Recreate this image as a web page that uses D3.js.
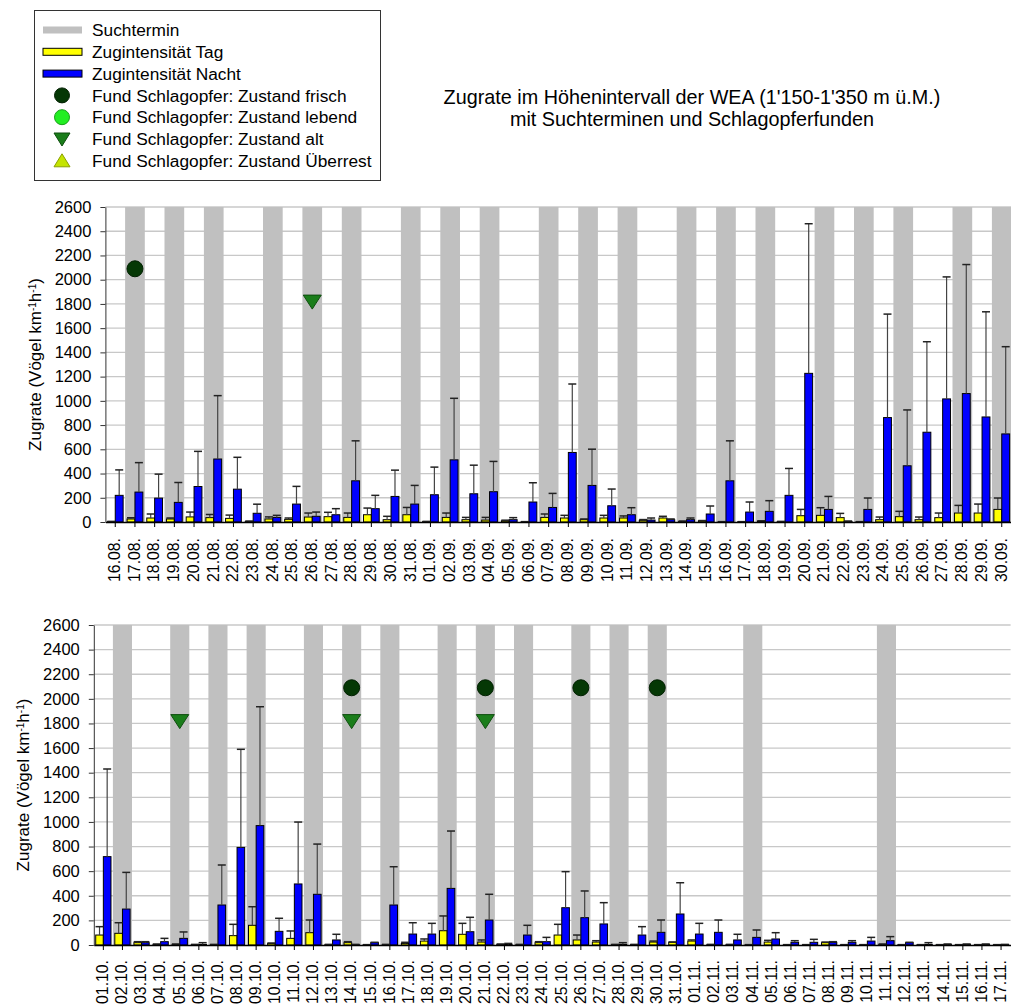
<!DOCTYPE html>
<html>
<head>
<meta charset="utf-8">
<script src="https://cdn.jsdelivr.net/npm/d3@7"></script>
<style>
body { margin: 0; background: #fff; }
svg text { font-family: "Liberation Sans", Arial, sans-serif; fill: #000; }
</style>
</head>
<body>
<div id="chart"></div>
<script>
var width = 1011;
var height = 1008;

// Panel 1: 16.08. - 30.09.
var dates1 = ["16.08.","17.08.","18.08.","19.08.","20.08.","21.08.","22.08.","23.08.","24.08.","25.08.",
    "26.08.","27.08.","28.08.","29.08.","30.08.","31.08.","01.09.","02.09.","03.09.","04.09.",
    "05.09.","06.09.","07.09.","08.09.","09.09.","10.09.","11.09.","12.09.","13.09.","14.09.",
    "15.09.","16.09.","17.09.","18.09.","19.09.","20.09.","21.09.","22.09.","23.09.","24.09.",
    "25.09.","26.09.","27.09.","28.09.","29.09.","30.09."];
var tag1 = [3,25,33,25,42,36,30,4,25,22, 41,44,38,60,19,60,3,38,19,16,
    10,2,38,33,19,33,33,14,33,5, 10,2,2,8,3,52,55,36,2,19, 44,19,36,74,74,104];
var tagTop1 = [5,35,66,33,82,62,57,8,42,33, 74,80,74,115,47,120,5,74,38,38,
    15,3,66,55,25,55,50,20,47,8, 12,3,3,10,5,104,118,71,3,41, 88,41,74,137,148,198];
var nacht1 = [220,247,197,162,293,520,271,72,38,148, 47,60,340,110,211,148,225,513,233,250,
    19,165,120,574,302,134,60,16,19,19, 66,340,82,88,220,1227,104,5,104,862, 464,741,1016,1060,867,727];
var nachtTop1 = [430,490,395,326,583,1043,534,147,55,294, 82,110,670,220,428,302,453,1021,469,500,
    36,324,236,1139,601,272,118,33,25,33, 132,670,165,176,442,2462,211,8,198,1716, 925,1488,2023,2125,1735,1447];
var such1 = ["17.08.","19.08.","21.08.","24.08.","26.08.","28.08.","31.08.","02.09.","04.09.","07.09.",
    "09.09.","11.09.","14.09.","16.09.","18.09.","21.09.","23.09.","25.09.","28.09.","30.09."];
var frisch1 = ["17.08."];
var alt1 = ["26.08."];

// Panel 2: 01.10. - 17.11.
var dates2 = ["01.10.","02.10.","03.10.","04.10.","05.10.","06.10.","07.10.","08.10.","09.10.","10.10.",
    "11.10.","12.10.","13.10.","14.10.","15.10.","16.10.","17.10.","18.10.","19.10.","20.10.",
    "21.10.","22.10.","23.10.","24.10.","25.10.","26.10.","27.10.","28.10.","29.10.","30.10.",
    "31.10.","01.11.","02.11.","03.11.","04.11.","05.11.","06.11.","07.11.","08.11.","09.11.",
    "10.11.","11.11.","12.11.","13.11.","14.11.","15.11.","16.11.","17.11."];
var tag2 = [81,95,19,5,5,3,3,76,160,13, 54,100,3,19,2,3,13,32,116,87,
    24,5,3,19,81,41,24,3,3,24, 22,32,3,3,2,24,2,2,19,2, 2,5,2,2,2,2,2,2];
var tagTop2 = [149,181,27,8,8,5,5,168,311,16, 114,203,5,27,3,5,22,49,236,176,
    41,8,5,27,168,81,35,5,5,32, 25,41,5,5,3,38,3,3,24,3, 3,8,3,3,3,3,3,3];
var nacht2 = [718,292,19,27,54,5,325,793,970,111, 496,412,41,3,19,325,89,89,460,108,
    203,5,81,27,303,222,171,5,81,103, 252,89,103,41,62,49,22,22,22,22, 32,35,19,5,5,5,5,3];
var nachtTop2 = [1430,590,27,54,106,19,650,1590,1936,217, 999,820,87,5,22,636,181,176,926,225,
    412,13,160,62,596,439,344,19,149,203, 506,176,203,87,122,100,35,46,27,35, 62,68,22,19,8,8,8,5];
var such2 = ["02.10.","05.10.","07.10.","09.10.","12.10.","14.10.","16.10.","19.10.","21.10.","23.10.",
    "26.10.","28.10.","30.10.","04.11.","11.11."];
var frisch2 = ["14.10.","21.10.","26.10.","30.10."];
var alt2 = ["05.10.","14.10.","21.10."];

var yTicks = [0,200,400,600,800,1000,1200,1400,1600,1800,2000,2200,2400,2600];
var yMax = 2600;
var frischLevel = 2090;
var altLevel = 1815;

var legendNames = ["Suchtermin", "Zugintensität Tag", "Zugintensität Nacht",
    "Fund Schlagopfer: Zustand frisch", "Fund Schlagopfer: Zustand lebend",
    "Fund Schlagopfer: Zustand alt", "Fund Schlagopfer: Zustand Überrest"];
var legendTypes = ["band", "tag", "nacht", "frisch", "lebend", "alt", "rest"];

var colTag = "#ffff00", colNacht = "#0000ff", colBand = "#c0c0c0", colGrid = "#c8c8c8";
var colFrisch = "#053805", colLebend = "#22ee22", colAlt = "#1a7d1a", colRest = "#c4e400";

var svg = d3.select("#chart")
    .append("svg")
    .attr("width", width)
    .attr("height", height);

svg.append("rect").attr("width", width).attr("height", height).attr("fill", "#fff");

function drawPanel(p) {
    var g = svg.append("g");
    var n = p.dates.length;

    var x = d3.scaleBand()
        .domain(p.dates)
        .range([p.left, p.left + n * p.step]);
    var sub = d3.scaleBand()
        .domain(["tag", "nacht"])
        .range([0, x.bandwidth()])
        .paddingInner(0)
        .paddingOuter(0.25);
    var y = d3.scaleLinear()
        .domain([0, yMax])
        .range([p.bottom, p.top]);
    var right = p.left + n * p.step;

    // gridlines
    g.selectAll(".grid")
        .data(yTicks.slice(1))
        .enter()
        .append("line")
        .attr("x1", p.left).attr("x2", right)
        .attr("y1", function(d) { return y(d); })
        .attr("y2", function(d) { return y(d); })
        .attr("stroke", colGrid)
        .attr("stroke-width", 1.3);

    // Suchtermin bands
    g.selectAll(".band")
        .data(p.such)
        .enter()
        .append("rect")
        .attr("x", function(d) { return x(d); })
        .attr("y", y(yMax))
        .attr("width", x.bandwidth())
        .attr("height", y(0) - y(yMax))
        .attr("fill", colBand);

    var rows = p.dates.map(function(d, i) {
        return {date: d, tag: p.tag[i], tagTop: p.tagTop[i], nacht: p.nacht[i], nachtTop: p.nachtTop[i]};
    });

    var series = [
        {key: "tag", top: "tagTop", color: colTag},
        {key: "nacht", top: "nachtTop", color: colNacht}
    ];

    series.forEach(function(s) {
        g.selectAll(".bar-" + s.key)
            .data(rows)
            .enter()
            .append("rect")
            .attr("x", function(d) { return x(d.date) + sub(s.key); })
            .attr("y", function(d) { return y(d[s.key]); })
            .attr("width", sub.bandwidth())
            .attr("height", function(d) { return y(0) - y(d[s.key]); })
            .attr("fill", s.color)
            .attr("stroke", "#000")
            .attr("stroke-width", 1);
    });

    series.forEach(function(s) {
        var eg = g.selectAll(".err-" + s.key)
            .data(rows)
            .enter()
            .append("g");
        eg.append("line")
            .attr("x1", function(d) { return x(d.date) + sub(s.key) + sub.bandwidth() / 2; })
            .attr("x2", function(d) { return x(d.date) + sub(s.key) + sub.bandwidth() / 2; })
            .attr("y1", function(d) { return y(d[s.key]); })
            .attr("y2", function(d) { return y(d[s.top]); })
            .attr("stroke", "#444")
            .attr("stroke-width", 1.2);
        eg.append("line")
            .attr("x1", function(d) { return x(d.date) + sub(s.key) + sub.bandwidth() / 2 - 4; })
            .attr("x2", function(d) { return x(d.date) + sub(s.key) + sub.bandwidth() / 2 + 4; })
            .attr("y1", function(d) { return y(d[s.top]); })
            .attr("y2", function(d) { return y(d[s.top]); })
            .attr("stroke", "#222")
            .attr("stroke-width", 1.5);
    });

    // victim markers
    g.selectAll(".frisch")
        .data(p.frisch)
        .enter()
        .append("circle")
        .attr("cx", function(d) { return x(d) + x.bandwidth() / 2; })
        .attr("cy", y(frischLevel))
        .attr("r", 8)
        .attr("fill", colFrisch)
        .attr("stroke", "#022002");

    g.selectAll(".alt")
        .data(p.alt)
        .enter()
        .append("path")
        .attr("transform", function(d) {
            return "translate(" + (x(d) + x.bandwidth() / 2) + "," + y(altLevel) + ")";
        })
        .attr("d", "M-9,-7L9,-7L0,7Z")
        .attr("fill", colAlt)
        .attr("stroke", "#0d4d0d");

    // axes
    var yAxis = g.append("g")
        .attr("transform", "translate(" + p.left + ",0)")
        .call(d3.axisLeft(y).tickValues(yTicks).tickFormat(d3.format("d"))
            .tickSize(5).tickSizeOuter(0).tickPadding(p.yPad));
    yAxis.select(".domain").attr("stroke", "#333");
    yAxis.selectAll(".tick line").attr("stroke", "#333");
    yAxis.selectAll("text")
        .style("font-size", "16.5px")
        .attr("fill", "#000");

    var xAxis = g.append("g")
        .attr("transform", "translate(0," + y(0) + ")")
        .call(d3.axisBottom(x).tickSize(5).tickSizeOuter(0));
    xAxis.select(".domain").attr("stroke", "#000").attr("stroke-width", 1.3);
    xAxis.selectAll(".tick line").attr("stroke", "#000");
    xAxis.selectAll("text")
        .attr("transform", "rotate(-90)")
        .attr("text-anchor", "end")
        .attr("x", -p.xLabelGap)
        .attr("y", 0)
        .attr("dy", "0.3em")
        .style("font-size", "15.8px")
        .attr("fill", "#000");

    // y title
    var t = g.append("text")
        .attr("transform", "translate(" + p.titleX + "," + ((p.top + p.bottom) / 2) + ") rotate(-90)")
        .attr("text-anchor", "middle")
        .attr("dy", "0.35em")
        .style("font-size", "17px");
    t.append("tspan").text("Zugrate (Vögel km");
    t.append("tspan").attr("baseline-shift", "super").style("font-size", "10px").text("-1");
    t.append("tspan").text("h");
    t.append("tspan").attr("baseline-shift", "super").style("font-size", "10px").text("-1");
    t.append("tspan").text(")");
}

drawPanel({
    dates: dates1, tag: tag1, tagTop: tagTop1, nacht: nacht1, nachtTop: nachtTop1,
    such: such1, frisch: frisch1, alt: alt1,
    left: 105.4, step: 19.7, top: 207, bottom: 522, yPad: 9, xLabelGap: 16, titleX: 35
});

drawPanel({
    dates: dates2, tag: tag2, tagTop: tagTop2, nacht: nacht2, nachtTop: nachtTop2,
    such: such2, frisch: frisch2, alt: alt2,
    left: 93.8, step: 19.1, top: 625, bottom: 945, yPad: 9, xLabelGap: 15, titleX: 23
});

// title
svg.append("text")
    .attr("x", 692).attr("y", 104)
    .attr("text-anchor", "middle")
    .style("font-size", "19.8px")
    .text("Zugrate im Höhenintervall der WEA (1'150-1'350 m ü.M.)");
svg.append("text")
    .attr("x", 692).attr("y", 126)
    .attr("text-anchor", "middle")
    .style("font-size", "19.8px")
    .text("mit Suchterminen und Schlagopferfunden");

// legend
var legend = svg.append("g");
legend.append("rect")
    .attr("x", 34.5).attr("y", 10.5)
    .attr("width", 346).attr("height", 170)
    .attr("fill", "#fff")
    .attr("stroke", "#333");

var items = legend.selectAll(".item")
    .data(legendNames)
    .enter()
    .append("g")
    .attr("transform", function(d, i) { return "translate(0," + (30 + i * 21.8) + ")"; });

items.append("text")
    .attr("x", 92)
    .attr("dy", "0.36em")
    .style("font-size", "17.3px")
    .text(function(d) { return d; });

items.each(function(d, i) {
    var it = d3.select(this);
    var type = legendTypes[i];
    if (type == "band") {
        it.append("rect").attr("x", 43).attr("y", -3.5).attr("width", 39).attr("height", 7).attr("fill", colBand);
    } else if (type == "tag" || type == "nacht") {
        it.append("rect").attr("x", 43).attr("y", -3.5).attr("width", 39).attr("height", 7)
            .attr("fill", type == "tag" ? colTag : colNacht).attr("stroke", "#000");
    } else if (type == "frisch" || type == "lebend") {
        it.append("circle").attr("cx", 62).attr("cy", 0).attr("r", 7.5)
            .attr("fill", type == "frisch" ? colFrisch : colLebend)
            .attr("stroke", type == "frisch" ? "#022002" : "#18a018");
    } else if (type == "alt") {
        it.append("path").attr("transform", "translate(62,0)").attr("d", "M-8,-6L8,-6L0,7Z")
            .attr("fill", colAlt).attr("stroke", "#0d4d0d");
    } else {
        it.append("path").attr("transform", "translate(62,0)").attr("d", "M-8,6L8,6L0,-7Z")
            .attr("fill", colRest).attr("stroke", "#8aa000");
    }
});
</script>
</body>
</html>
